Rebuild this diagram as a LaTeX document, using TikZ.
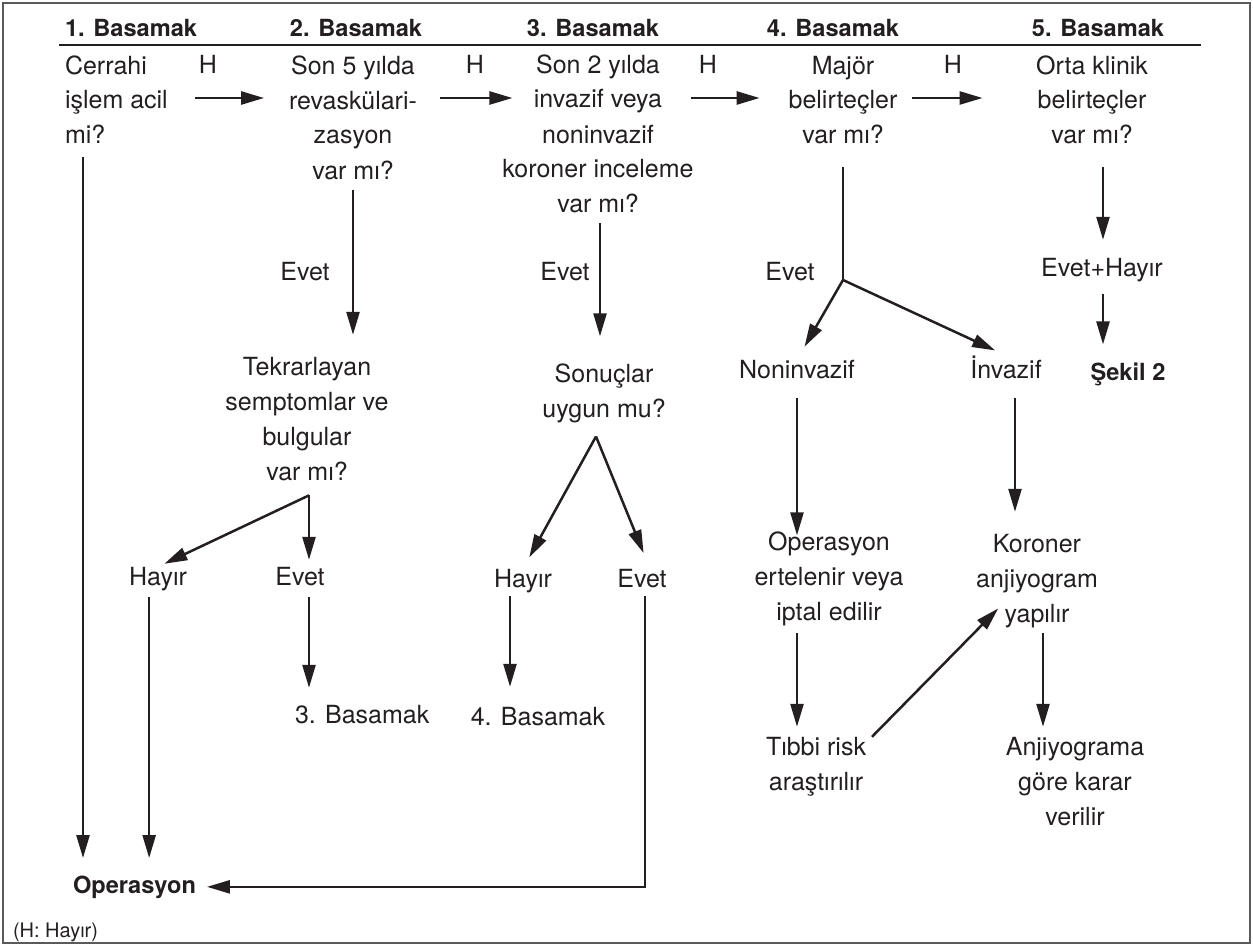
\documentclass[tikz,border=0pt]{standalone}
\usepackage{fontspec}
\setmainfont{TeX Gyre Heros}
\usepackage{xcolor}
\definecolor{ink}{RGB}{35,31,32}
\definecolor{framegray}{RGB}{90,90,90}
\usepackage{tikz}
\usetikzlibrary{arrows.meta,positioning}

\begin{document}
\begin{tikzpicture}[x=0.5pt, y=-0.5pt, color=ink,
    every node/.style={inner sep=0pt, outer sep=0pt, text=ink},
    txt/.style={font=\fontsize{12.5pt}{17.5pt}\selectfont, align=center, anchor=base},
    bld/.style={font=\fontsize{11.8pt}{17pt}\selectfont\bfseries, anchor=base},
    arr/.style={-{Triangle[length=11.5pt,width=6.5pt]}, line width=1.25pt, ink},
    ln/.style={line width=1.25pt, ink}]

    \useasboundingbox (0,0) rectangle (1253,947);
    \draw[framegray, line width=0.8pt] (3,3) rectangle (1250,943);

    %% Header row
    \node[bld, anchor=base west] (hd1) at (65,37) {1. Basamak};
    \node[bld] (hd2) at (356,37) {2. Basamak};
    \node[bld] (hd3) at (593,37) {3. Basamak};
    \node[bld] (hd4) at (833,37) {4. Basamak};
    \node[bld] (hd5) at (1098,37) {5. Basamak};
    \draw[ln, line width=1.3pt] (59,45) -- (1201,45);

    %% Questions of each step (base = last line)
    \node[txt, align=left, anchor=base west] (cerrahi) at (65,144) {Cerrahi\\işlem acil\\mi?};
    \node[txt] (revask) at (353,179) {Son 5 yılda\\revaskülari-\\zasyon\\var mı?};
    \node[txt] (koroner) at (598,213) {Son 2 yılda\\invazif veya\\noninvazif\\koroner inceleme\\var mı?};
    \node[txt] (major) at (843,144) {Majör\\belirteçler\\var mı?};
    \node[txt] (orta) at (1092,144) {Orta klinik\\belirteçler\\var mı?};

    %% H (Hayır) arrows between steps
    \node[txt] (h1) at (208,74) {H};
    \node[txt] (h2) at (475,74) {H};
    \node[txt] (h3) at (708,74) {H};
    \node[txt] (h4) at (953,74) {H};
    \coordinate (hrow) at (0,98);
    \draw[arr, shorten <=13.5pt, shorten >=12.5pt] (cerrahi.east |- hrow) -- (revask.west |- hrow);
    \draw[arr, shorten <=11.75pt, shorten >=-5pt] (revask.east |- hrow) -- (koroner.west |- hrow);
    \draw[arr, shorten <=-1.5pt, shorten >=14.5pt] (koroner.east |- hrow) -- (major.west |- hrow);
    \draw[arr, shorten <=7.5pt, shorten >=26.75pt] (major.east |- hrow) -- (orta.west |- hrow);

    %% Operasyon
    \node[bld, anchor=base west] (oper) at (73,893) {Operasyon};
    \node[font=\fontsize{10pt}{12pt}\selectfont, anchor=base west] (hnote) at (13,937) {(H: Hayır)};
    \coordinate (c1) at ([xshift=9pt]cerrahi.south west);
    \draw[arr, shorten <=6.5pt, shorten >=8.75pt] (c1) -- (c1 |- oper.north);

    %% 2. Basamak branch
    \node[txt] (evet2) at (305,280) {Evet};
    \node[txt] (tekrar) at (307,480) {Tekrarlayan\\semptomlar ve\\bulgular\\var mı?};
    \draw[arr, shorten <=5.5pt, shorten >=11pt] (revask.south) -- (revask.south |- tekrar.north);
    \node[txt] (hayirA) at (158,585) {Hayır};
    \node[txt] (evetA) at (300,585) {Evet};
    \coordinate (j2) at ([shift={(2,15)}]tekrar.south);
    \draw[arr, shorten >=3.5pt] (j2) -- (hayirA.north);
    \draw[arr, shorten >=3.5pt] (j2) -- (j2 |- evetA.north);
    \node[txt, anchor=base west] (bas3) at (295,723) {3. Basamak};
    \coordinate (c2) at ([xshift=4.5pt]evetA.south);
    \draw[arr, shorten <=6pt, shorten >=8.5pt] (c2) -- (c2 |- bas3.north);
    \coordinate (c2b) at ([xshift=10pt]hayirA.south west);
    \draw[arr, shorten <=3.5pt, shorten >=8.75pt] (c2b) -- (c2b |- oper.north);

    %% 3. Basamak branch
    \node[txt] (evet3) at (565,280) {Evet};
    \node[txt] (sonuc) at (604,417) {Sonuçlar\\uygun mu?};
    \coordinate (c3) at ([xshift=1pt]koroner.south);
    \draw[arr, shorten <=5pt, shorten >=13.5pt] (c3) -- (c3 |- sonuc.north);
    \node[txt] (hayirB) at (523,587) {Hayır};
    \node[txt] (evetB) at (642,587) {Evet};
    \coordinate (j3) at ([shift={(-8,14)}]sonuc.south);
    \draw[arr, shorten >=6.5pt] (j3) -- (hayirB.north);
    \draw[arr, shorten >=8.5pt] (j3) -- ([xshift=4pt]evetB.north);
    \node[txt] (bas4) at (538,725) {4. Basamak};
    \coordinate (c3b) at ([xshift=-6.5pt]hayirB.south);
    \draw[arr, shorten <=2pt, shorten >=10pt] (c3b) -- (c3b |- bas4.north);
    \draw[arr, shorten <=4.5pt, shorten >=5.5pt] ([xshift=1.5pt]evetB.south) |- (oper.east);

    %% 4. Basamak branch
    \node[txt] (evet4) at (790,280) {Evet};
    \coordinate (j4) at (major.south |- evet4.base);
    \draw[ln, shorten <=11.5pt] (major.south) -- (j4);
    \node[txt] (noninv) at (797,378) {Noninvazif};
    \node[txt] (inv) at (1006,378) {İnvazif};
    \draw[arr, shorten >=7.5pt] (j4) -- (noninv.north);
    \draw[arr, shorten >=6pt] (j4) -- (inv.north);
    \node[txt] (erte) at (829,620) {Operasyon\\ertelenir veya\\iptal edilir};
    \node[txt] (anjio) at (1037,622) {Koroner\\anjiyogram\\yapılır};
    \draw[arr, shorten <=10pt, shorten >=-2pt] (noninv.south) -- (noninv.south |- erte.north);
    \coordinate (c4) at ([xshift=4.5pt]inv.south);
    \draw[arr, shorten <=10pt, shorten >=11pt] (c4) -- (c4 |- anjio.north);
    \node[txt] (tibbi) at (816,790) {Tıbbi risk\\araştırılır};
    \node[txt] (karar) at (1075,825) {Anjiyograma\\göre karar\\verilir};
    \draw[arr, shorten <=4pt, shorten >=5pt] (noninv.south |- erte.south) -- (noninv.south |- tibbi.north);
    \draw[arr] ([xshift=3pt]tibbi.north east) -- ([shift={(22,-19)}]anjio.south west);
    \coordinate (c4b) at ([xshift=3pt]anjio.south);
    \draw[arr, shorten <=3pt, shorten >=5pt] (c4b) -- (c4b |- karar.north);

    %% 5. Basamak branch
    \node[txt] (evhay) at (1102,276) {Evet+Hayır};
    \node[bld] (sekil) at (1128,380) {Şekil 2};
    \coordinate (c5) at ([xshift=5.5pt]orta.south);
    \draw[arr, shorten <=11.5pt, shorten >=9pt] (c5) -- (c5 |- evhay.north);
    \coordinate (c5b) at ([xshift=0.5pt]evhay.south);
    \draw[arr, shorten <=6.5pt, shorten >=9pt] (c5b) -- (c5b |- sekil.north);
\end{tikzpicture}
\end{document}
